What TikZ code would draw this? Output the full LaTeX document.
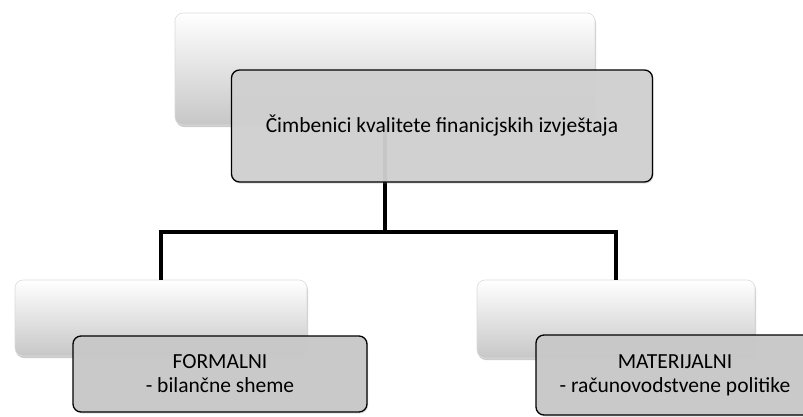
\documentclass[tikz,border=0pt]{standalone}
\usepackage{fontspec}
\setmainfont{Carlito}
\usepackage{tikz}
\usetikzlibrary{shadows}

\begin{document}
\begin{tikzpicture}[x=1pt,y=-1pt,
  back/.style={rounded corners=8pt,top color=white,middle color=white,bottom color=black!22,
    draw=black!14,line width=0.6pt,drop shadow={opacity=0.4,shadow xshift=1pt,shadow yshift=-2pt}},
  label/.style={rounded corners=8pt,draw=black,line width=1.3pt,fill=black!18,fill opacity=0.94,
    text opacity=1,align=center,font=\fontsize{21.5}{24}\selectfont,
    drop shadow={opacity=0.25,shadow xshift=1pt,shadow yshift=-1.5pt}},
  conn/.style={line width=4.5pt}]
\useasboundingbox (0,0) rectangle (803,416);
\coordinate (split) at (385,232);
\node[back,minimum width=420pt,minimum height=112pt] (topw) at (385,69) {};
\node[back,minimum width=292pt,minimum height=76pt] (lw) at (161,318) {};
\node[back,minimum width=278pt,minimum height=78pt] (rw) at (616,319) {};
\draw[conn] (topw.south) -- (split) -| (lw.north);
\draw[conn] (split) -| (rw.north);
\node[label,minimum width=421pt,minimum height=112pt] (topg) at (442,126) {Čimbenici kvalitete finanicjskih izvještaja};
\node[label,fill=black!21,minimum width=294pt,minimum height=76pt] (lg) at (220,374) {FORMALNI\\- bilančne sheme};
\node[label,fill=black!21,minimum width=278pt,minimum height=80pt] (rg) at (675,375) {MATERIJALNI\\- računovodstvene politike};
\end{tikzpicture}
\end{document}
